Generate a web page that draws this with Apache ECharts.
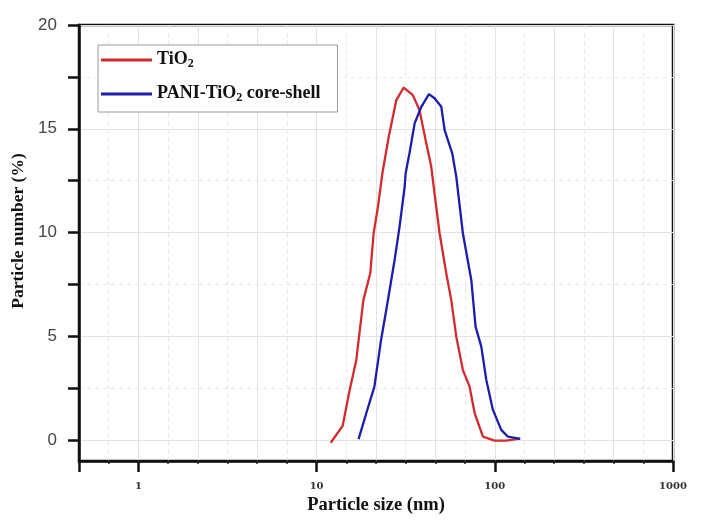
<!DOCTYPE html>
<html>
<head>
<meta charset="utf-8">
<script src="https://cdn.jsdelivr.net/npm/echarts@6/dist/echarts.min.js"></script>
<style>
  html, body { margin: 0; padding: 0; background: #fff; }
  #chart { width: 702px; height: 528px; }
</style>
</head>
<body>
<div id="chart"></div>
<script>
  // particle size (nm) / particle number (%)
  const tio2Size = [12.0, 14.0, 15.2, 16.7, 18.3, 20.0, 20.9, 22.1, 23.4, 25.4, 28.0, 30.8, 34.7, 37.8, 40.9, 44.0, 45.9, 49.0, 53.4, 57.0, 60.8, 66.2, 72.2, 77.1, 85.8, 99.8, 116, 138];
  const tio2Pct  = [-0.12, 0.69, 2.26, 3.87, 6.75, 8.04, 9.97, 11.25, 12.86, 14.62, 16.38, 16.98, 16.62, 15.9, 14.46, 13.17, 11.89, 9.97, 8.04, 6.75, 4.99, 3.38, 2.58, 1.30, 0.17, -0.02, -0.02, 0.08];

  const paniSize = [17.2, 19.0, 21.1, 23.0, 24.6, 27.4, 29.2, 31.2, 31.6, 33.2, 35.5, 38.7, 42.7, 45.9, 50.1, 52.3, 57.7, 60.8, 66.2, 73.8, 78.0, 84.0, 89.6, 97.6, 108.7, 118.5, 139];
  const paniPct  = [0.05, 1.30, 2.58, 4.83, 6.27, 8.68, 10.28, 12.21, 12.86, 13.82, 15.26, 16.06, 16.67, 16.47, 16.06, 14.94, 13.82, 12.69, 9.97, 7.72, 5.47, 4.51, 2.90, 1.46, 0.50, 0.17, 0.06];

  const seriesNames = ['TiO2', 'PANI-TiO2 core-shell'];
  const yTicks = [0, 5, 10, 15, 20];
  const yMinorTicks = [2.5, 7.5, 12.5, 17.5];
  const xTicks = [1, 10, 100, 1000];

  const xMin = Math.pow(10, -1 / 3);
  const xMax = 1000;

  // grid lines of the original sit every 1/6 decade (solid every 1/3)
  const gridSolid = [];
  const gridDashed = [];
  for (let k = -2; k <= 18; k++) {
    if (k % 2 === 0) gridSolid.push(k / 6);
    else gridDashed.push(k / 6);
  }

  const serif = '"Liberation Serif", "DejaVu Serif", serif';

  function pairs (xs, ys) {
    return xs.map((x, i) => [x, ys[i]]);
  }

  function legendLabel (name) {
    const parts = name.split('2');
    let out = '';
    parts.forEach((p, i) => {
      if (p) out += '{t|' + p + '}';
      if (i < parts.length - 1) out += '{s|2}';
    });
    return out;
  }

  const chart = echarts.init(document.getElementById('chart'));

  const decoAxis = {
    type: 'value',
    gridIndex: 0,
    position: 'bottom',
    min: -1 / 3,
    max: 3,
    axisLine: { show: false, onZero: false },
    axisLabel: { show: false }
  };

  chart.setOption({
    backgroundColor: '#fff',
    animation: false,
    grid: {
      left: 79,
      right: 29,
      top: 25,
      bottom: 67,
      show: true,
      borderColor: '#111',
      borderWidth: 2.5,
      backgroundColor: 'transparent'
    },
    legend: {
      data: seriesNames,
      orient: 'vertical',
      left: 98,
      top: 45,
      padding: [3, 17, 8, 3],
      itemGap: 12,
      itemWidth: 51,
      itemHeight: 3,
      icon: 'rect',
      backgroundColor: '#fff',
      borderColor: '#9a9a9a',
      borderWidth: 1,
      formatter: legendLabel,
      textStyle: {
        rich: {
          t: { fontFamily: serif, fontWeight: 'bold', fontSize: 18, color: '#111', lineHeight: 20, verticalAlign: 'top' },
          s: { fontFamily: serif, fontWeight: 'bold', fontSize: 12, color: '#111', lineHeight: 12, padding: [10, 0, 0, 0], verticalAlign: 'bottom' }
        }
      }
    },
    xAxis: [
      {
        type: 'log',
        logBase: 10,
        min: xMin,
        max: xMax,
        name: 'Particle size (nm)',
        nameLocation: 'middle',
        nameGap: 34,
        nameTextStyle: { fontFamily: serif, fontWeight: 'bold', fontSize: 18.5, color: '#111' },
        axisLine: { onZero: false, lineStyle: { color: '#111', width: 2.5 } },
        axisTick: { length: 11, lineStyle: { color: '#111', width: 2.5 } },
        axisLabel: {
          margin: 20,
          fontFamily: '"DejaVu Serif", serif',
          fontWeight: 'bold',
          fontSize: 10,
          color: '#333',
          showMinLabel: true,
          formatter: function (v) {
            for (const t of xTicks) {
              if (Math.abs(v - t) / t < 1e-6) return String(t);
            }
            return '';
          }
        },
        splitLine: { show: false }
      },
      Object.assign({}, decoAxis, {
        axisTick: { show: true, length: 3, customValues: gridSolid, lineStyle: { color: '#222', width: 1.5 } },
        splitLine: { show: true, lineStyle: { color: '#e3e3e3', width: 1 } }
      }),
      Object.assign({}, decoAxis, {
        axisTick: { show: true, length: 3, customValues: gridDashed, lineStyle: { color: '#222', width: 1.5 } },
        splitLine: { show: true, lineStyle: { color: '#e9e9e9', width: 1, type: [4, 4] } }
      })
    ],
    yAxis: [
      {
        type: 'value',
        min: -1,
        max: 20,
        name: 'Particle number (%)',
        nameLocation: 'middle',
        nameGap: 48,
        nameTextStyle: { fontFamily: serif, fontWeight: 'bold', fontSize: 17.5, color: '#111', padding: [0, 0, 0, 24] },
        axisLine: { show: true, onZero: false, lineStyle: { color: '#111', width: 2.5 } },
        axisTick: { show: true, length: 11, customValues: yTicks, lineStyle: { color: '#111', width: 2.5 } },
        axisLabel: {
          customValues: yTicks,
          margin: 22,
          fontFamily: '"Liberation Sans", Arial, sans-serif',
          fontSize: 17,
          color: '#444'
        },
        splitLine: { show: true, lineStyle: { color: '#e3e3e3', width: 1 } }
      },
      {
        type: 'value',
        min: -1,
        max: 20,
        position: 'left',
        axisLine: { show: false, onZero: false },
        axisLabel: { show: false },
        axisTick: { show: true, length: 11, customValues: yMinorTicks, lineStyle: { color: '#111', width: 2.5 } },
        splitLine: { show: true, lineStyle: { color: '#e9e9e9', width: 1, type: [4, 4] } }
      }
    ],
    series: [
      {
        name: seriesNames[0],
        type: 'line',
        xAxisIndex: 0,
        yAxisIndex: 0,
        showSymbol: false,
        symbol: 'none',
        data: pairs(tio2Size, tio2Pct),
        lineStyle: { color: '#d42a2e', width: 2.3 },
        itemStyle: { color: '#d42a2e' }
      },
      {
        name: seriesNames[1],
        type: 'line',
        xAxisIndex: 0,
        yAxisIndex: 0,
        showSymbol: false,
        symbol: 'none',
        data: pairs(paniSize, paniPct),
        lineStyle: { color: '#1c1cae', width: 2.3 },
        itemStyle: { color: '#1c1cae' }
      }
    ]
  });
</script>
</body>
</html>
